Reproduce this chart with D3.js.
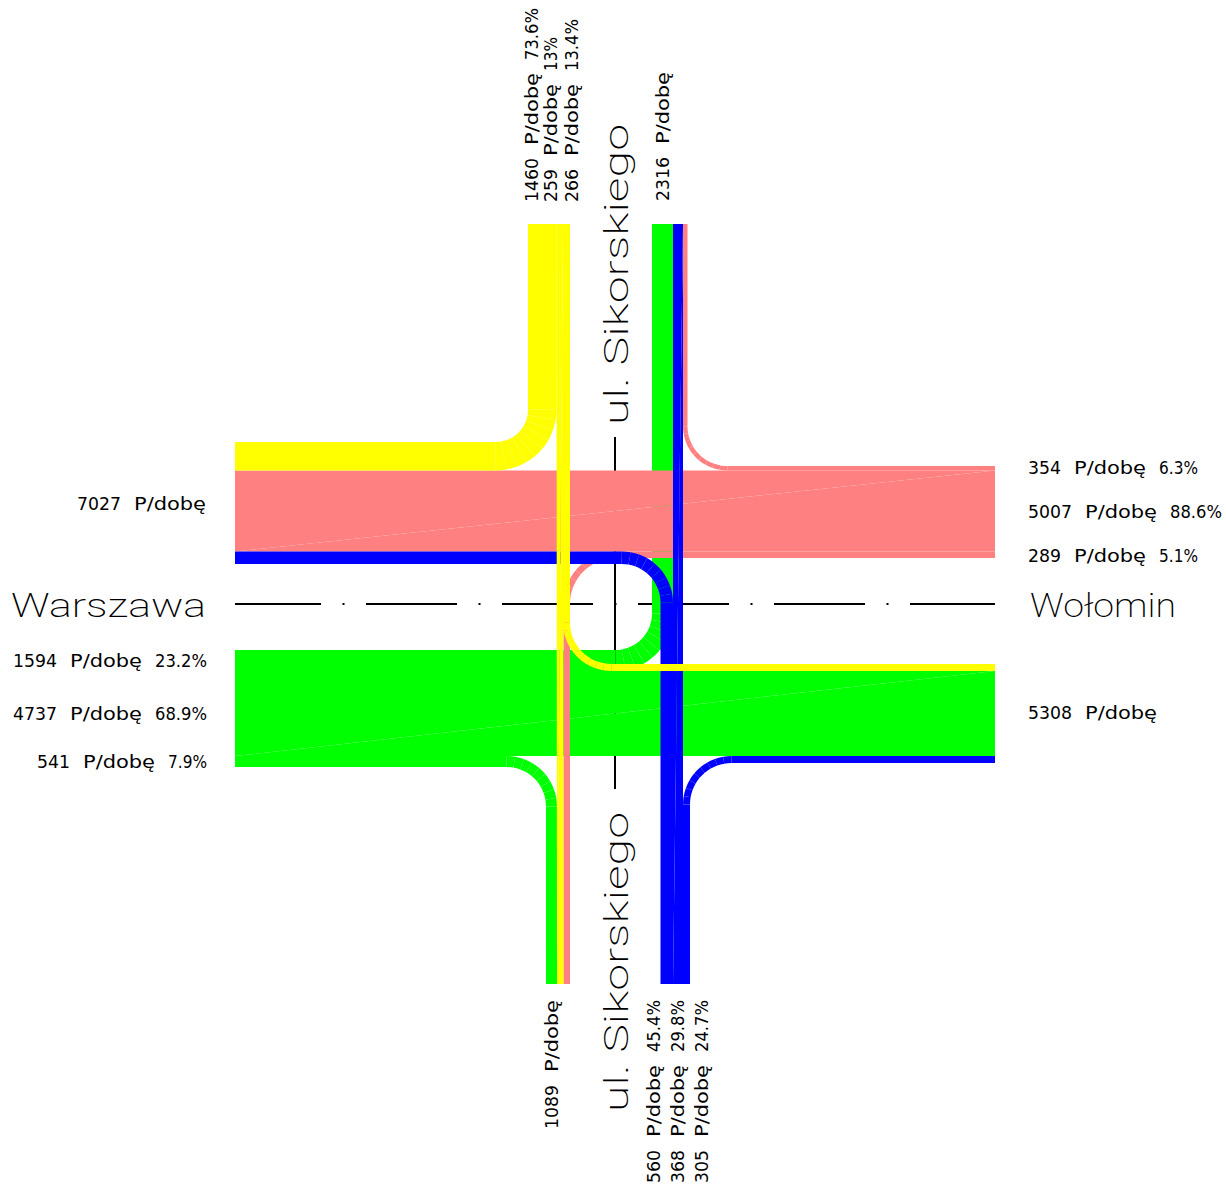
<!DOCTYPE html>
<html>
<head>
<meta charset="utf-8">
<title>Warszawa - Wołomin</title>
<script src="https://cdn.jsdelivr.net/npm/d3@7"></script>
<style>
  html, body { margin: 0; padding: 0; background: #fff; }
  text { font-family: "DejaVu Sans", sans-serif; fill: #000; white-space: pre; }
  text.road { font-family: "DejaVu Sans ExtraLight", Roboto, "DejaVu Sans", sans-serif; font-weight: 200; }
</style>
</head>
<body>
<script>
// traffic per flow, P/dobe
var flowNames = ["W-N", "W-E", "W-S", "N-W", "N-S", "N-E", "E-N", "E-W", "E-S", "S-W", "S-N", "S-E"];
var flowValues = [1594, 4737, 541, 1460, 259, 266, 354, 5007, 289, 560, 368, 305];
var flowGroups = ["green", "green", "green", "yellow", "yellow", "yellow", "pink", "pink", "pink", "blue", "blue", "blue"];

// lane order on each arm (from low to high coordinate)
var northLeft = ["N-W", "N-S", "N-E"];
var northRight = ["W-N", "S-N", "E-N"];
var southLeft = ["W-S", "N-S", "E-S"];
var southRight = ["S-W", "S-N", "S-E"];
var westTop = ["N-W", "E-W", "S-W"];
var westBottom = ["W-N", "W-E", "W-S"];
var eastTop = ["E-N", "E-W", "E-S"];
var eastBottom = ["N-E", "W-E", "S-E"];

// text
var roadNames = ["Warszawa", "Wołomin", "ul. Sikorskiego"];
var armTotals = [7027, 5308, 2316, 1089];
var westShares = ["23.2%", "68.9%", "7.9%"];
var eastShares = ["6.3%", "88.6%", "5.1%"];
var northShares = ["73.6%", "13%", "13.4%"];
var southShares = ["45.4%", "29.8%", "24.7%"];
var unitLabel = "P/dobę";

var colours = d3.scaleOrdinal()
  .domain(["green", "yellow", "pink", "blue"])
  .range(["#00ff00", "#ffff00", "#ff8080", "#0000ff"]);

// the plan is not strictly proportional, so the band width follows what the picture shows
var bandWidth = d3.scaleLinear()
  .domain([259, 266, 289, 305, 354, 368, 541, 560, 1460, 1594, 4737, 5007])
  .range([6.5, 7, 6.5, 7, 4.5, 10, 11, 12.5, 28.5, 21, 85, 81]);

var x = d3.scaleLinear().domain([-380, 380]).range([235, 995]);
var y = d3.scaleLinear().domain([-380, 380]).range([224, 984]);

var svg = d3.select("body").append("svg")
  .attr("width", 1226)
  .attr("height", 1188)
  .style("display", "block");

function valueOf(name) {
  return flowValues[flowNames.indexOf(name)];
}

// centre of every lane, as offset from the road axis
function stack(names, start) {
  var out = {};
  var pos = start;
  names.forEach(function(n) {
    var w = bandWidth(valueOf(n));
    out[n] = { a: pos, b: pos + w, mid: pos + w / 2 };
    pos += w;
  });
  return out;
}
function stackEnd(names, end) {
  return stack(names, end - d3.sum(names, function(n) { return bandWidth(valueOf(n)); }));
}

var lanes = {
  NL: stackEnd(northLeft, -45),
  NR: stack(northRight, 37),
  SL: stackEnd(southLeft, -45),
  SR: stack(southRight, 45.5),
  WT: stack(westTop, -162),
  WB: stack(westBottom, 46),
  ET: stack(eastTop, -138),
  EB: stack(eastBottom, 60)
};

// dash-dot road axes, under the flows
var axisGroup = svg.append("g").attr("stroke", "#000").attr("stroke-width", 2).attr("fill", "none");
axisGroup.append("line")
  .attr("x1", x(-380)).attr("x2", x(380))
  .attr("y1", y(0)).attr("y2", y(0))
  .attr("stroke-dasharray", "91 21.5 2 21.5")
  .attr("stroke-dashoffset", 5);
axisGroup.append("line")
  .attr("x1", x(0)).attr("x2", x(0))
  .attr("y1", y(-167)).attr("y2", y(185));

var flowLayer = svg.append("g");

function fillPoly(colour, pts) {
  flowLayer.append("polygon")
    .attr("points", pts.map(function(p) { return p.join(","); }).join(" "))
    .attr("fill", colour);
}

function rect(colour, x0, y0, x1, y1) {
  fillPoly(colour, [[x0, y0], [x1, y0], [x1, y1], [x0, y1]]);
}

// straight band, two triangles like the original plot
function through(colour, p0a, p0b, p1a, p1b) {
  fillPoly(colour, [p0a, p1a, p0b]);
  fillPoly(colour, [p1a, p1b, p0b]);
}

// horizontal arm end at hx, vertical arm end at vy, meeting at corner
function turn(name, hLane, hx, vLane, vy, r) {
  var colour = colours(flowGroups[flowNames.indexOf(name)]);
  var w = bandWidth(valueOf(name));
  var cx = x(vLane.mid);
  var cy = y(hLane.mid);
  var sx = hx < cx ? -1 : 1;
  var sy = vy < cy ? -1 : 1;
  var tx = cx + sx * r;
  var ty = cy + sy * r;
  rect(colour, hx, cy - w / 2, tx, cy + w / 2);
  rect(colour, cx - w / 2, vy, cx + w / 2, ty);
  // arc centre and the fan of wedges
  var a0 = Math.atan2(0, sy);
  var a1 = Math.atan2(-sx, 0);
  var d = a1 - a0;
  if (d > Math.PI) d -= 2 * Math.PI;
  if (d < -Math.PI) d += 2 * Math.PI;
  var wedge = d3.arc().innerRadius(r - w / 2).outerRadius(r + w / 2);
  d3.range(9).forEach(function(i) {
    flowLayer.append("path")
      .attr("transform", "translate(" + tx + "," + ty + ")")
      .attr("d", wedge({ startAngle: a0 + d * i / 9, endAngle: a0 + d * (i + 1) / 9 }))
      .attr("fill", colour);
  });
}

var xW = x(-380), xE = x(380), yN = y(-380), yS = y(380);

function acrossH(name, w, e) {
  through(colours(flowGroups[flowNames.indexOf(name)]),
    [xW, y(w.a)], [xW, y(w.b)], [xE, y(e.a)], [xE, y(e.b)]);
}
function acrossV(name, n, s) {
  through(colours(flowGroups[flowNames.indexOf(name)]),
    [x(n.a), yN], [x(n.b), yN], [x(s.a), yS], [x(s.b), yS]);
}

// green
turn("W-N", lanes.WB["W-N"], xW, lanes.NR["W-N"], yN, 47);
acrossH("W-E", lanes.WB["W-E"], lanes.EB["W-E"]);
turn("W-S", lanes.WB["W-S"], xW, lanes.SL["W-S"], yS, 45);
// pink
turn("E-N", lanes.ET["E-N"], xE, lanes.NR["E-N"], yN, 42);
acrossH("E-W", lanes.WT["E-W"], lanes.ET["E-W"]);
turn("E-S", lanes.ET["E-S"], xE, lanes.SL["E-S"], yS, 49);
// blue
turn("S-W", lanes.WT["S-W"], xW, lanes.SR["S-W"], yS, 45);
acrossV("S-N", lanes.NR["S-N"], lanes.SR["S-N"]);
turn("S-E", lanes.EB["S-E"], xE, lanes.SR["S-E"], yS, 45);
// yellow
turn("N-W", lanes.WT["N-W"], xW, lanes.NL["N-W"], yN, 46.5);
acrossV("N-S", lanes.NL["N-S"], lanes.SL["N-S"]);
turn("N-E", lanes.EB["N-E"], xE, lanes.NL["N-E"], yN, 45);

var textLayer = svg.append("g");
var small = 18, big = 34;
var wordGap = 13, unitWidth = 72;

function shareWidth(s) {
  return s.length >= 5 ? 52 : (s.length == 4 ? 39 : 34);
}
function labelWidth(num, share) {
  var w = String(num).length * 11 + wordGap + unitWidth;
  if (share) w += wordGap + shareWidth(share);
  return w;
}

// one label: number, unit and share, each word stretched to the plotter's width
function label(transform, num, share) {
  var t = textLayer.append("text")
    .attr("transform", transform)
    .attr("font-size", small);
  var pos = 0;
  var words = [String(num), unitLabel];
  if (share) words.push(share);
  words.forEach(function(w, i) {
    var len = i == 0 ? w.length * 11 : (i == 1 ? unitWidth : shareWidth(w));
    t.append("tspan")
      .attr("x", pos)
      .attr("textLength", len)
      .attr("lengthAdjust", "spacingAndGlyphs")
      .text(w);
    if (i < words.length - 1) t.append("tspan").text(" ");
    pos += len + wordGap;
  });
}

function hEnd(num, share, xEnd, base) {
  label("translate(" + (xEnd - labelWidth(num, share)) + "," + base + ")", num, share);
}
function hStart(num, share, xStart, base) {
  label("translate(" + xStart + "," + base + ")", num, share);
}
function vStart(num, share, yBottom, base) {
  label("translate(" + base + "," + yBottom + ") rotate(-90)", num, share);
}
function roadH(str, x0, x1, base) {
  textLayer.append("text")
    .attr("class", "road")
    .attr("x", x0).attr("y", base)
    .attr("font-size", big)
    .attr("textLength", x1 - x0)
    .attr("lengthAdjust", "spacingAndGlyphs")
    .text(str);
}
function roadV(str, yBottom, yTop, base) {
  textLayer.append("text")
    .attr("class", "road")
    .attr("transform", "translate(" + base + "," + yBottom + ") rotate(-90)")
    .attr("font-size", big)
    .attr("textLength", yBottom - yTop)
    .attr("lengthAdjust", "spacingAndGlyphs")
    .text(str);
}

hEnd(armTotals[0], null, 206, 510);
roadH(roadNames[0], 11, 206, 617);
hEnd(valueOf("W-N"), westShares[0], 207, 667);
hEnd(valueOf("W-E"), westShares[1], 207, 720);
hEnd(valueOf("W-S"), westShares[2], 207, 768);

hStart(valueOf("E-N"), eastShares[0], 1028, 474);
hStart(valueOf("E-W"), eastShares[1], 1028, 518);
hStart(valueOf("E-S"), eastShares[2], 1028, 562);
roadH(roadNames[1], 1030, 1176, 617);
hStart(armTotals[1], null, 1028, 719);

vStart(valueOf("N-W"), northShares[0], 202, 538);
vStart(valueOf("N-S"), northShares[1], 202, 557);
vStart(valueOf("N-E"), northShares[2], 202, 578);
vStart(armTotals[2], null, 201, 669);
roadV(roadNames[2], 425, 124, 628);

roadV(roadNames[2], 1112, 812, 628);
vStart(armTotals[3], null, 1129, 558);
vStart(valueOf("S-W"), southShares[0], 1183, 660);
vStart(valueOf("S-N"), southShares[1], 1183, 684);
vStart(valueOf("S-E"), southShares[2], 1183, 708);
</script>
</body>
</html>
